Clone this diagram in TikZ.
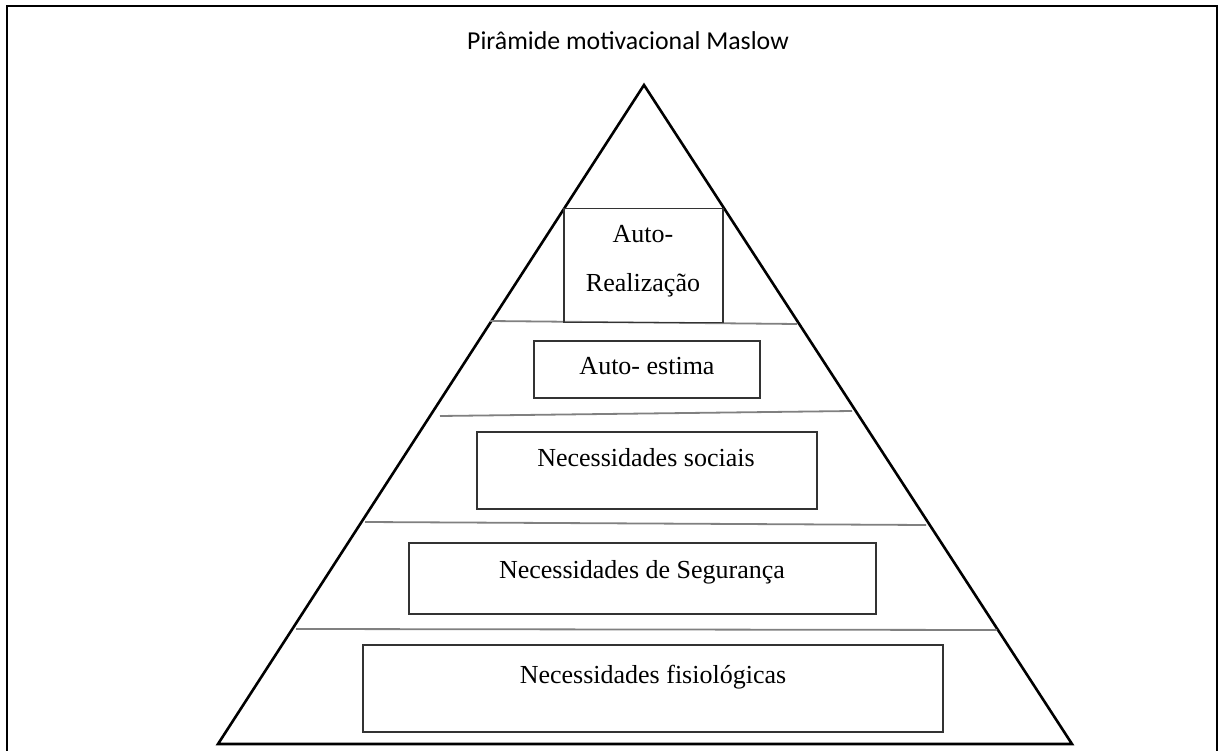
\documentclass[tikz,border=0pt]{standalone}
\usepackage{fontspec}
\setmainfont{Liberation Serif}
\newfontfamily\titlefont{Carlito}
\begin{document}
\begin{tikzpicture}[x=1pt,y=-1pt,
  lbl/.style={inner sep=0pt,anchor=base,font=\fontsize{26}{30}\selectfont},
  levelbox/.style={draw=black!80,line width=1.9pt,inner sep=0pt},
  divider/.style={draw=black!50,line width=1.8pt},
  side/.style={draw=black,line width=2.6pt,line join=miter}]
\useasboundingbox (0,0) rectangle (1219,751);
\fill[white] (0,0) rectangle (1219,751);
% frame (open at the bottom edge of the picture)
\begin{scope}
\clip (0,0) rectangle (1219,751);
\draw[line width=2.8pt] (7,760) -- (7,6) -- (1217,6) -- (1217,760);
\end{scope}
% title
\node[inner sep=0pt,anchor=base,font=\titlefont\fontsize{25.8}{30}\selectfont] (title) at (628,50) {Pirâmide motivacional Maslow};
% pyramid
\coordinate (apex) at (644,85);
\coordinate (bl) at (218,744);
\coordinate (br) at (1072,744);
\draw[side] (bl) -- (apex) -- (br) -- cycle;
% dividers
\coordinate (d1l) at (490,321); \coordinate (d1r) at (797,324);
\coordinate (d2l) at (440,416); \coordinate (d2r) at (852,411);
\coordinate (d3l) at (365,522); \coordinate (d3r) at (926,525);
\coordinate (d4l) at (296,629); \coordinate (d4r) at (997,630);
\draw[divider] (d1l) -- (d1r);
\draw[divider] (d2l) -- (d2r);
\draw[divider] (d3l) -- (d3r);
\draw[divider] (d4l) -- (d4r);
% boxes
\node[levelbox,minimum width=159pt,minimum height=114pt] (b1) at (643.5,265.5) {};
\node[levelbox,minimum width=226pt,minimum height=57pt] (b2) at (647,369.5) {};
\node[levelbox,minimum width=340pt,minimum height=77pt] (b3) at (647,470.5) {};
\node[levelbox,minimum width=467pt,minimum height=71pt] (b4) at (642.5,578.5) {};
\node[levelbox,minimum width=580pt,minimum height=87pt] (b5) at (653,688.5) {};
% labels
\node[lbl] (t1a) at (643,243) {Auto-};
\node[lbl] (t1b) at (643,292) {Realização};
\node[lbl] (t2) at (647,375) {Auto- estima};
\node[lbl] (t3) at (646,466) {Necessidades sociais};
\node[lbl] (t4) at (642,578) {Necessidades de Segurança};
\node[lbl] (t5) at (653,683) {Necessidades fisiológicas};
\end{tikzpicture}
\end{document}
